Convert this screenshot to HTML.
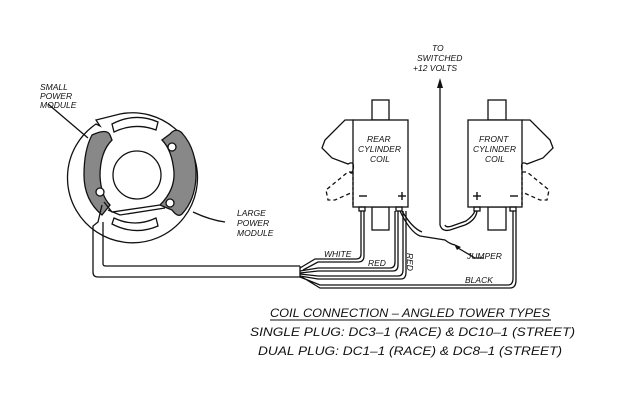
<!DOCTYPE html>
<html><head><style>html,body{margin:0;padding:0;background:#fff}svg{display:block}
text{font-family:"Liberation Sans",sans-serif;font-style:italic;fill:#111}</style></head>
<body>
<svg width="622" height="401" viewBox="0 0 622 401" xmlns="http://www.w3.org/2000/svg">
<rect width="622" height="401" fill="#fff"/>
<g fill="none" stroke="#111" stroke-width="1.3">
<!-- stator ring -->
<path d="M96,124 A65,65 0 1 0 120,114 L96,120 L100,126 Z" fill="#fff"/>
<circle cx="137" cy="175" r="24"/>
<path d="M112,124 Q135,112 158,122 L156,130 Q135,122 114,132 Z"/>
<path d="M112,224 Q135,236 158,226 L156,218 Q135,228 114,218 Z"/>
<!-- small module -->
<path d="M92,135 Q107,128 110,135 L112,140 Q100,152 100,176 Q101,196 110,205 L102,215 Q84,200 84,175 Q84,150 92,135 Z" fill="#888"/>
<!-- large module -->
<path d="M170,134 Q176,127 182,133 Q197,150 196,177 Q195,200 182,214 Q178,218 172,210 L160,205 Q175,190 174,172 Q172,150 162,140 Z" fill="#888"/>
<circle cx="100" cy="192" r="4" fill="#fff"/><circle cx="172" cy="147" r="4" fill="#fff"/><circle cx="170" cy="203" r="4" fill="#fff"/>
<!-- cable -->
<path d="M102,205 L98,222 L93,226 L93,272 Q93,277 98,277 L300,277 M103,222 L103,264 Q103,266 106,266 L300,266 M300,266 L300,277"/>
<path d="M104,202 L112,212 L160,205 M108,210 L120,215 L165,208"/>
<!-- leaders -->
<path d="M48,104 L88,138 M193,212 Q210,220 225,222"/>
<!-- rear coil -->
<rect x="372" y="100" width="17" height="20" fill="#fff"/>
<rect x="372" y="207" width="17" height="23" fill="#fff"/>
<rect x="353" y="120" width="55" height="87" fill="#fff"/>
<path d="M353,120 L345,120 L325,140 L322,148 L332,158 L348,164 Q355,160 353,170 Q352,175 350,172"/>
<path d="M353,172 L348,172 L326,190 L328,200 L335,200 L353,192" stroke-dasharray="4,3"/>
<line x1="353" y1="172" x2="353" y2="205" stroke-dasharray="3,2"/>
<rect x="359" y="207" width="6" height="4"/><rect x="396" y="207" width="6" height="4"/>
<!-- front coil -->
<rect x="488" y="100" width="18" height="20" fill="#fff"/>
<rect x="488" y="207" width="18" height="23" fill="#fff"/>
<rect x="468" y="120" width="54" height="87" fill="#fff"/>
<path d="M522,120 L530,120 L550,140 L553,148 L543,158 L527,164 Q520,160 522,170"/>
<path d="M522,172 L527,172 L549,190 L547,200 L540,200 L522,192" stroke-dasharray="4,3"/>
<line x1="522" y1="172" x2="522" y2="205" stroke-dasharray="3,2"/>
<rect x="474" y="207" width="6" height="4"/><rect x="510" y="207" width="6" height="4"/>
<!-- +12 wire -->
<path d="M440,225 L440,85"/>
<path d="M440,225 Q442,232 450,230 L465,225 Q476,220 477,211"/>
<path d="M445,225 Q446,228 452,226 L466,221 Q473,216 475,211"/>
<!-- jumper -->
<path d="M400,211 Q410,232 420,236 L445,240 Q450,244 455,245 M402,211 Q412,228 422,232"/>
<path d="M458,248 L475,258 L484,258"/>
<!-- wires -->
<path d="M300,268 L315,259 L356,259 Q361,259 361,254 L361,211 M303,270 L318,262 L358,262 Q364,262 364,256 L364,211"/>
<path d="M300,271 L318,268 L390,268 Q395,268 395,262 L395,211 M300,273 L318,271 L393,271 Q398,271 398,265 L398,211"/>
<path d="M300,274 L318,276 L398,276 Q403,276 403,270 L403,211 M300,276 L318,279 L401,279 Q406,279 406,272 L406,211"/>
<path d="M300,277 L320,285 L508,285 Q513,285 513,278 L513,211 M302,277 L320,288 L510,288 Q516,288 516,280 L516,211"/>
<line x1="270" y1="320" x2="551" y2="320" stroke-width="1"/>
</g>
<path d="M440,78 L437,88 L443,88 Z" fill="#111"/>
<path d="M454,244 L461,247 L457,250 Z" fill="#111"/>
<g font-size="8.5">
<text x="40" y="90">SMALL</text><text x="40" y="99">POWER</text><text x="40" y="108">MODULE</text>
<text x="237" y="216">LARGE</text><text x="237" y="226">POWER</text><text x="237" y="236">MODULE</text>
<text x="432" y="51">TO</text><text x="417" y="61">SWITCHED</text><text x="413" y="71">+12 VOLTS</text>
<text x="367" y="142">REAR</text><text x="358" y="152">CYLINDER</text><text x="370" y="162">COIL</text>
<text x="479" y="142">FRONT</text><text x="473" y="152">CYLINDER</text><text x="485" y="162">COIL</text>
<text x="324" y="257">WHITE</text><text x="368" y="266">RED</text>
<text x="467" y="259">JUMPER</text><text x="465" y="283">BLACK</text>
<text transform="translate(407,253) rotate(90)">RED</text>
</g>
<g font-size="11" fill="#111" stroke="#111" stroke-width="1.4">
<line x1="359" y1="196" x2="367" y2="196"/><line x1="398" y1="196" x2="406" y2="196"/><line x1="402" y1="192" x2="402" y2="200"/>
<line x1="473" y1="196" x2="481" y2="196"/><line x1="477" y1="192" x2="477" y2="200"/><line x1="510" y1="196" x2="518" y2="196"/>
</g>
<g font-size="12">
<text x="270" y="317" textLength="280" lengthAdjust="spacingAndGlyphs">COIL CONNECTION – ANGLED TOWER TYPES</text>
<text x="250" y="336" textLength="325" lengthAdjust="spacingAndGlyphs">SINGLE PLUG: DC3–1 (RACE) &amp; DC10–1 (STREET)</text>
<text x="258" y="355" textLength="304" lengthAdjust="spacingAndGlyphs">DUAL PLUG: DC1–1 (RACE) &amp; DC8–1 (STREET)</text>
</g>
</svg>
</body></html>
